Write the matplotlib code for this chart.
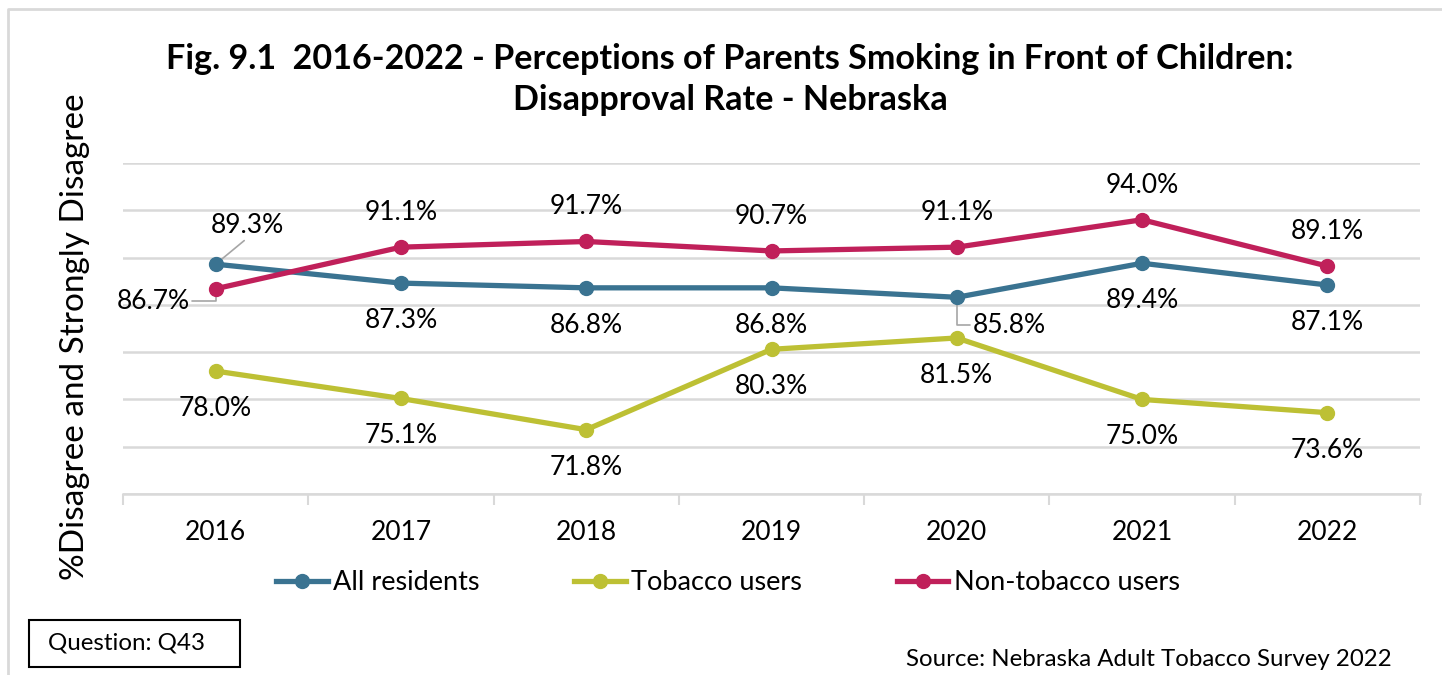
import numpy as np
import matplotlib.pyplot as plt
from matplotlib.lines import Line2D
from matplotlib.patches import Rectangle

plt.rcParams["font.family"] = ["Lato", "DejaVu Sans"]

years = ["2016", "2017", "2018", "2019", "2020", "2021", "2022"]
all_res = [89.3, 87.3, 86.8, 86.8, 85.8, 89.4, 87.1]
tobacco = [78.0, 75.1, 71.8, 80.3, 81.5, 75.0, 73.6]
non_tob = [86.7, 91.1, 91.7, 90.7, 91.1, 94.0, 89.1]

c_all = "#3A7391"
c_tob = "#BDC034"
c_non = "#C0205A"
grid_c = "#D9D9D9"

W, H = 1442, 675
fig = plt.figure(figsize=(W / 100, H / 100), dpi=100)
ax = fig.add_axes([123 / W, 1 - 494 / H, (1420 - 123) / W, (494 - 163) / H])

x = np.arange(len(years))
kw = dict(lw=3.8, marker="o", ms=10, solid_capstyle="round", zorder=5)
ax.plot(x, all_res, color=c_all, **kw)
ax.plot(x, tobacco, color=c_tob, **kw)
ax.plot(x, non_tob, color=c_non, **kw)

ax.set_xlim(-0.5, 6.5)
ax.set_ylim(65, 100)
ax.set_yticks(np.arange(65, 101, 5))
ax.set_yticklabels([])
ax.tick_params(axis="y", length=0)
ax.grid(axis="y", color=grid_c, lw=1.8)
ax.set_axisbelow(True)
for s in ["left", "right", "top"]:
    ax.spines[s].set_visible(False)
ax.spines["bottom"].set_color(grid_c)
ax.spines["bottom"].set_linewidth(1.8)

ax.set_xticks(x)
ax.set_xticklabels(years, fontsize=19)
ax.tick_params(axis="x", which="major", length=0, pad=19)
ax.set_xticks(np.arange(-0.5, 7, 1), minor=True)
ax.tick_params(axis="x", which="minor", length=8, width=1.5, color=grid_c)

lab = dict(ha="center", va="center", fontsize=19, textcoords="offset points")
lead = dict(arrowstyle="-", color="#A6A6A6", lw=1.2, shrinkA=0, shrinkB=4)


def pct(v):
    return f"{v:.1f}%"


# Non-tobacco labels: above (2016 is moved left-below)
for i, v in enumerate(non_tob):
    if i == 0:
        ax.annotate(pct(v), (i, v), xytext=(-45, -9), **lab,
                    arrowprops=dict(lead, connectionstyle="angle,angleA=0,angleB=90"))
    else:
        ax.annotate(pct(v), (i, v), xytext=(0, 25), **lab)

# All residents labels: below (2016 above, 2020 moved right)
for i, v in enumerate(all_res):
    if i == 0:
        ax.annotate(pct(v), (i, v), xytext=(23, 28), **lab,
                    arrowprops=dict(lead, relpos=(0.5, 0.0)))
    elif i == 4:
        ax.annotate(pct(v), (i, v), xytext=(38, -20), **lab,
                    arrowprops=dict(lead, relpos=(0.0, 0.5),
                                    connectionstyle="angle,angleA=0,angleB=90"))
    else:
        ax.annotate(pct(v), (i, v), xytext=(0, -27), **lab)

# Tobacco labels: below
for i, v in enumerate(tobacco):
    ax.annotate(pct(v), (i, v), xytext=(0, -27), **lab)

fig.text(730 / W, 1 - 59 / H, "Fig. 9.1  2016-2022 - Perceptions of Parents Smoking in Front of Children:",
         ha="center", va="center", fontsize=24.6, fontweight="bold")
fig.text(730 / W, 1 - 100 / H, "Disapproval Rate - Nebraska",
         ha="center", va="center", fontsize=24.6, fontweight="bold")

fig.text(75 / W, 1 - 337 / H, "%Disagree and Strongly Disagree", rotation=90,
         ha="center", va="center", fontsize=24)

handles = [Line2D([], [], color=c, lw=3.8, marker="o", ms=10) for c in (c_all, c_tob, c_non)]
fig.legend(handles, ["All residents", "Tobacco users", "Non-tobacco users"],
           loc="center", bbox_to_anchor=(728 / W, 1 - 583 / H), ncol=3, frameon=False,
           fontsize=19.5, handlelength=1.9, handletextpad=0.2, columnspacing=3.5)

fig.add_artist(Rectangle((29 / W, 1 - 667 / H), 211 / W, 47 / H, transform=fig.transFigure,
                         fill=False, edgecolor="black", lw=1.5))
fig.text(127 / W, 1 - 643 / H, "Question: Q43", ha="center", va="center", fontsize=17.4)
fig.text(1392 / W, 1 - 660 / H, "Source: Nebraska Adult Tobacco Survey 2022",
         ha="right", va="center", fontsize=17.3)

# outer frame (top and left edges visible)
fig.add_artist(Line2D([8 / W, 8 / W, 1.0], [0.0, 1 - 9 / H, 1 - 9 / H],
                      transform=fig.transFigure, color=grid_c, lw=2))

plt.savefig("out.png", dpi=100)
